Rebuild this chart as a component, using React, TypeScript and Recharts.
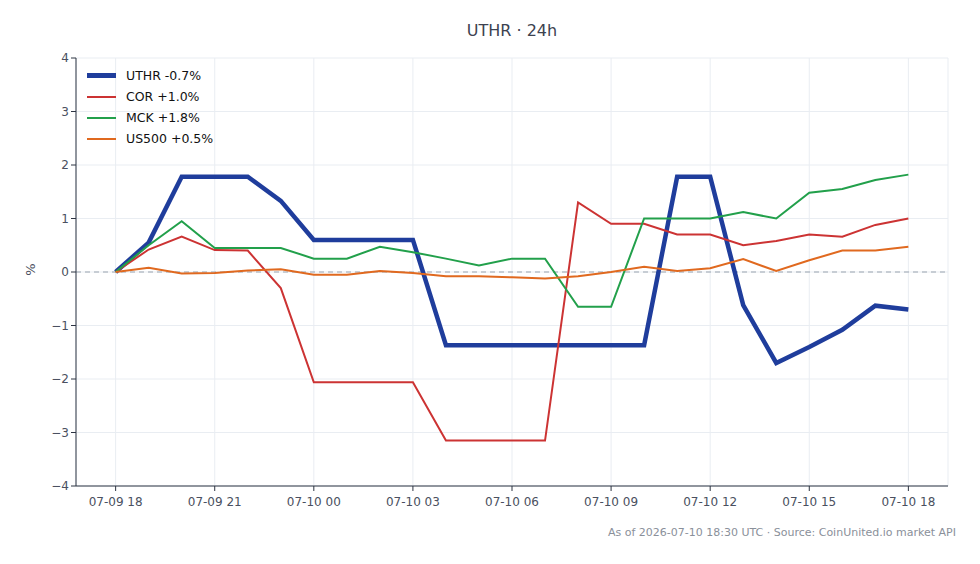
import React from "react";
import {
  LineChart,
  Line,
  XAxis,
  YAxis,
  CartesianGrid,
  ReferenceLine,
} from "recharts";

// hours since 07-09 18:00
const hours = [0, 1, 2, 3, 4, 5, 6, 7, 8, 9, 10, 11, 12, 13, 14, 15, 16, 17, 18, 19, 20, 21, 22, 23, 24];

const uthr = [0, 0.55, 1.78, 1.78, 1.78, 1.33, 0.6, 0.6, 0.6, 0.6, -1.37, -1.37, -1.37, -1.37, -1.37, -1.37, -1.37, 1.78, 1.78, -0.62, -1.7, -1.4, -1.08, -0.63, -0.7];
const cor = [0, 0.42, 0.66, 0.41, 0.4, -0.3, -2.06, -2.06, -2.06, -2.06, -3.15, -3.15, -3.15, -3.15, 1.3, 0.9, 0.9, 0.7, 0.7, 0.5, 0.58, 0.7, 0.66, 0.88, 1.0];
const mck = [0, 0.5, 0.95, 0.45, 0.45, 0.45, 0.25, 0.25, 0.47, 0.37, 0.25, 0.12, 0.25, 0.25, -0.65, -0.65, 1.0, 1.0, 1.0, 1.12, 1.0, 1.48, 1.55, 1.72, 1.82];
const us500 = [0, 0.08, -0.03, -0.02, 0.03, 0.05, -0.05, -0.05, 0.02, -0.02, -0.08, -0.08, -0.1, -0.12, -0.08, 0.0, 0.1, 0.02, 0.07, 0.24, 0.02, 0.22, 0.4, 0.4, 0.47];

const xTicks = [0, 3, 6, 9, 12, 15, 18, 21, 24];
const xTickLabels = ["07-09 18", "07-09 21", "07-10 00", "07-10 03", "07-10 06", "07-10 09", "07-10 12", "07-10 15", "07-10 18"];
const yTicks = [-4, -3, -2, -1, 0, 1, 2, 3, 4];

const seriesInfo = [
  { key: "uthr", label: "UTHR -0.7%", color: "#1f3d9c", width: 4.5 },
  { key: "cor", label: "COR +1.0%", color: "#cc3333", width: 2 },
  { key: "mck", label: "MCK +1.8%", color: "#22a04b", width: 2 },
  { key: "us500", label: "US500 +0.5%", color: "#e0691f", width: 2 },
];

const data = hours.map((h, i) => ({
  h,
  uthr: uthr[i],
  cor: cor[i],
  mck: mck[i],
  us500: us500[i],
}));

const font = "DejaVu Sans, sans-serif";
const tickStyle = { fontSize: 12, fill: "#4a5060", fontFamily: font };

function LegendBox() {
  return (
    <div
      style={{
        position: "absolute",
        left: 87,
        top: 65,
        fontFamily: font,
        fontSize: 12.5,
        color: "#111",
      }}
    >
      {seriesInfo.map((s) => (
        <div key={s.key} style={{ display: "flex", alignItems: "center", height: 21 }}>
          <span
            style={{
              display: "inline-block",
              width: 29,
              height: s.width,
              background: s.color,
              marginRight: 10,
            }}
          />
          {s.label}
        </div>
      ))}
    </div>
  );
}

export default function App() {
  return (
    <div style={{ position: "absolute", left: 0, top: 0, width: 980, height: 564, background: "#fff" }}>
      <div
        style={{
          position: "absolute",
          left: 76,
          width: 872,
          top: 21,
          textAlign: "center",
          fontFamily: font,
          fontSize: 16,
          color: "#3c4250",
        }}
      >
        UTHR · 24h
      </div>
      <div
        style={{
          position: "absolute",
          left: 24,
          top: 262,
          fontFamily: font,
          fontSize: 13,
          color: "#4a5060",
          transform: "rotate(-90deg)",
        }}
      >
        %
      </div>
      <LineChart width={980} height={564} data={data} margin={{ top: 58, right: 32, bottom: 48, left: 0 }}>
        <CartesianGrid stroke="#e9edf2" strokeWidth={1} />
        <XAxis
          dataKey="h"
          type="number"
          domain={[-1.2, 25.2]}
          ticks={xTicks}
          tickFormatter={(v: number) => xTickLabels[xTicks.indexOf(v)] ?? ""}
          tick={{ ...tickStyle, dy: 4 }}
          stroke="#2d3442"
          tickSize={5}
          height={30}
          allowDataOverflow
        />
        <YAxis
          type="number"
          domain={[-4, 4]}
          ticks={yTicks}
          tickFormatter={(v: number) => String(v).replace("-", "\u2212")}
          tick={tickStyle}
          stroke="#2d3442"
          tickSize={5}
          width={76}
        />
        <ReferenceLine y={0} stroke="#9aa3b0" strokeDasharray="5 4" strokeWidth={1.2} />
        {seriesInfo.map((s) => (
          <Line
            key={s.key}
            dataKey={s.key}
            name={s.label}
            stroke={s.color}
            strokeWidth={s.width}
            dot={false}
            type="linear"
            isAnimationActive={false}
          />
        ))}
      </LineChart>
      <LegendBox />
      <div
        style={{
          position: "absolute",
          right: 24,
          top: 526,
          fontFamily: font,
          fontSize: 11,
          color: "#8a909a",
        }}
      >
        As of 2026-07-10 18:30 UTC · Source: CoinUnited.io market API
      </div>
    </div>
  );
}
